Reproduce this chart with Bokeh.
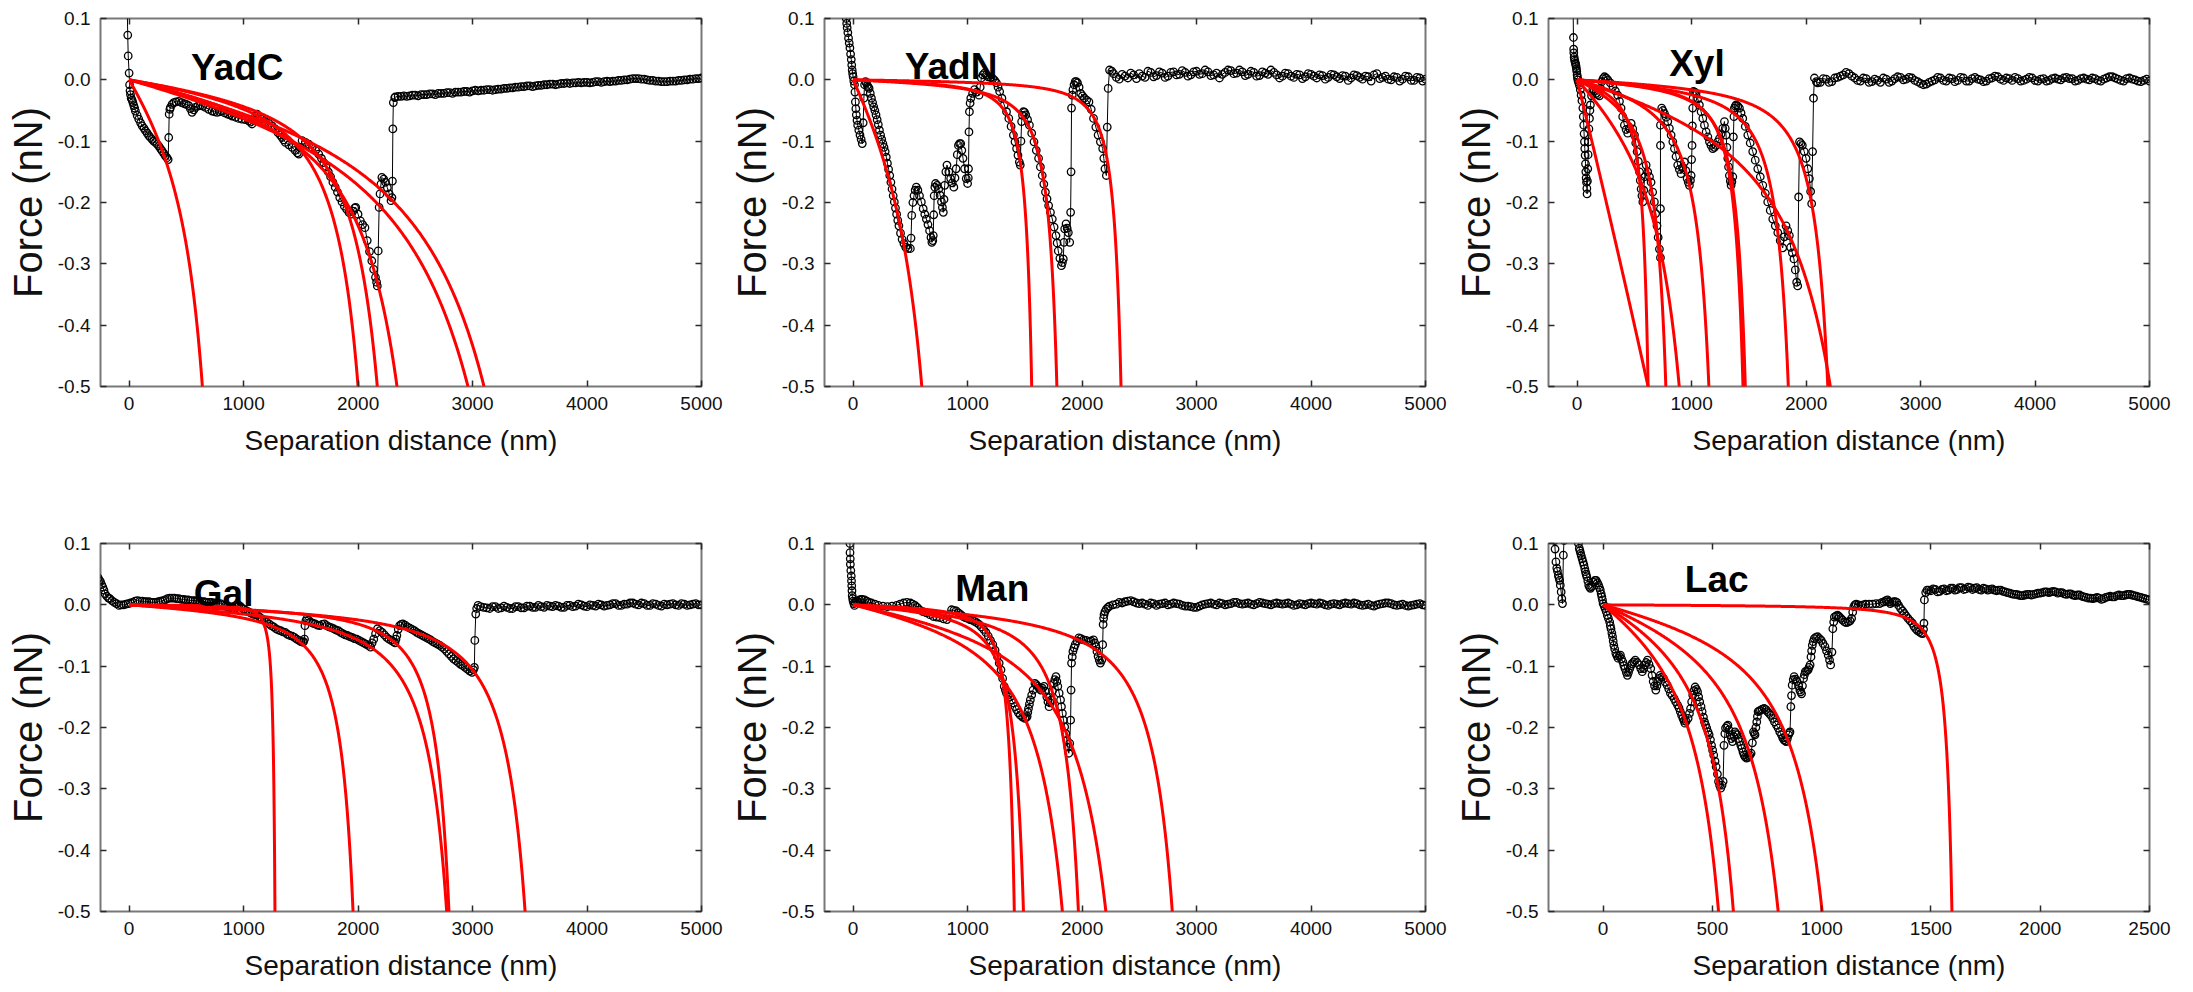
import numpy as np
from bokeh.plotting import figure
from bokeh.layouts import column, row
from bokeh.models import (LinearAxis, FixedTicker, NumeralTickFormatter,
                          CustomJSTickFormatter, Label, Range1d)
from bokeh.embed import file_html
from bokeh.resources import INLINE

FONT = "Liberation Sans"
KT = 4.11e-3  # thermal energy, nN*nm (for the worm-like-chain fit curves)

X_TICKS_5000 = [0, 1000, 2000, 3000, 4000, 5000]
X_TICKS_2500 = [0, 500, 1000, 1500, 2000, 2500]
Y_TICKS = [-0.5, -0.4, -0.3, -0.2, -0.1, 0.0, 0.1]

titles = ["YadC", "YadN", "Xyl", "Gal", "Man", "Lac"]
title_x = [541, 452, 804, 565, 892, 374]
title_y = [0.020, 0.022, 0.027, 0.018, 0.026, 0.041]
x_max = [5000, 5000, 5000, 5000, 5000, 2500]

# ---------------- measured retraction curves (separation nm, force nN) ----------------
yadc_pts = [(-20, 0.15), (-12, 0.073), (-8, 0.039), (0, 0.011), (4, -0.008), (8, -0.018), (12, -0.024),
    (18, -0.030), (26, -0.033), (33, -0.037), (41, -0.042), (48, -0.046), (55, -0.051), (70, -0.058),
    (84, -0.064), (100, -0.070), (114, -0.075), (130, -0.079), (143, -0.083), (158, -0.087), (172, -0.091),
    (186, -0.094), (201, -0.097), (215, -0.100), (230, -0.102), (245, -0.105), (259, -0.108), (274, -0.112),
    (288, -0.116), (303, -0.120), (317, -0.124), (330, -0.127), (341, -0.130), (346, -0.094), (350, -0.056),
    (356, -0.048), (361, -0.045), (375, -0.040), (390, -0.037), (410, -0.036), (434, -0.035), (458, -0.037),
    (481, -0.039), (500, -0.040), (521, -0.042), (535, -0.047), (550, -0.053), (565, -0.049), (579, -0.045),
    (600, -0.043), (623, -0.042), (645, -0.043), (667, -0.045), (695, -0.048), (725, -0.051), (745, -0.052),
    (768, -0.053), (790, -0.052), (812, -0.051), (835, -0.054), (860, -0.056), (880, -0.057), (900, -0.059),
    (930, -0.061), (958, -0.063), (985, -0.064), (1015, -0.065), (1045, -0.067), (1060, -0.069), (1074, -0.072),
    (1090, -0.066), (1105, -0.059), (1118, -0.056), (1140, -0.060), (1162, -0.064), (1190, -0.068),
    (1220, -0.071), (1249, -0.075), (1275, -0.080), (1300, -0.086), (1320, -0.090), (1336, -0.094),
    (1350, -0.098), (1365, -0.102), (1395, -0.106), (1424, -0.110), (1450, -0.115), (1470, -0.119),
    (1482, -0.121), (1495, -0.110), (1511, -0.099), (1540, -0.102), (1569, -0.105), (1600, -0.110),
    (1630, -0.115), (1656, -0.121), (1680, -0.128), (1700, -0.135), (1720, -0.142), (1740, -0.150),
    (1760, -0.158), (1780, -0.167), (1800, -0.175), (1820, -0.183), (1840, -0.192), (1860, -0.199),
    (1880, -0.206), (1900, -0.211), (1920, -0.216), (1940, -0.219), (1955, -0.214), (1970, -0.209),
    (1980, -0.208), (2000, -0.219), (2020, -0.230), (2040, -0.236), (2060, -0.241), (2080, -0.262),
    (2100, -0.280), (2120, -0.295), (2136, -0.309), (2152, -0.322), (2162, -0.330), (2168, -0.336),
    (2176, -0.279), (2184, -0.208), (2192, -0.186), (2200, -0.170), (2208, -0.159), (2224, -0.162),
    (2240, -0.167), (2256, -0.176), (2272, -0.186), (2288, -0.197), (2296, -0.192), (2300, -0.165),
    (2304, -0.080), (2308, -0.037), (2320, -0.029), (2325, -0.028), (2350, -0.027), (2375, -0.027),
    (2400, -0.026), (2425, -0.027), (2450, -0.026), (2475, -0.025), (2500, -0.025), (2525, -0.026),
    (2550, -0.024), (2575, -0.024), (2600, -0.024), (2625, -0.023), (2650, -0.023), (2675, -0.024),
    (2700, -0.022), (2725, -0.022), (2750, -0.022), (2775, -0.021), (2800, -0.021), (2825, -0.022),
    (2850, -0.020), (2875, -0.020), (2900, -0.020), (2925, -0.019), (2950, -0.019), (2975, -0.020),
    (3000, -0.018), (3025, -0.017), (3050, -0.018), (3075, -0.017), (3100, -0.017), (3125, -0.016),
    (3150, -0.016), (3175, -0.017), (3200, -0.016), (3225, -0.015), (3250, -0.015), (3275, -0.014),
    (3300, -0.014), (3325, -0.013), (3350, -0.013), (3375, -0.012), (3400, -0.012), (3425, -0.011),
    (3450, -0.011), (3475, -0.010), (3500, -0.010), (3525, -0.011), (3550, -0.010), (3575, -0.009),
    (3600, -0.009), (3625, -0.008), (3650, -0.008), (3675, -0.007), (3700, -0.007), (3725, -0.008),
    (3750, -0.007), (3775, -0.006), (3800, -0.006), (3825, -0.005), (3850, -0.006), (3875, -0.005),
    (3900, -0.005), (3925, -0.004), (3950, -0.005), (3975, -0.004), (4000, -0.004), (4025, -0.005),
    (4050, -0.004), (4075, -0.003), (4100, -0.003), (4125, -0.004), (4150, -0.003), (4175, -0.002),
    (4200, -0.003), (4225, -0.002), (4250, -0.002), (4275, -0.001), (4300, -0.001), (4325, 0.000),
    (4350, 0.000), (4375, 0.001), (4400, 0.002), (4425, 0.002), (4450, 0.002), (4475, 0.001), (4500, 0.001),
    (4525, 0.000), (4550, -0.001), (4575, -0.001), (4600, -0.002), (4625, -0.002), (4650, -0.003),
    (4675, -0.003), (4700, -0.003), (4725, -0.002), (4750, -0.002), (4775, -0.002), (4800, -0.001),
    (4825, -0.001), (4850, 0.000), (4875, 0.000), (4900, 0.001), (4925, 0.001), (4950, 0.002), (4975, 0.002),
    (5000, 0.003)]

yadn_pts = [(-64, 0.115), (-60, 0.100), (-56, 0.092), (-52, 0.085), (-46, 0.077), (-40, 0.068), (-34, 0.060),
    (-28, 0.052), (-22, 0.042), (-16, 0.033), (-12, 0.024), (-8, 0.016), (-4, 0.010), (0, 0.005), (6, -0.002),
    (12, -0.008), (16, -0.020), (20, -0.036), (24, -0.047), (28, -0.057), (34, -0.066), (40, -0.074),
    (50, -0.082), (60, -0.090), (70, -0.097), (80, -0.104), (88, -0.070), (94, -0.030), (100, -0.008),
    (108, -0.003), (116, -0.005), (124, -0.009), (132, -0.012), (140, -0.014), (150, -0.022), (160, -0.030),
    (170, -0.037), (180, -0.044), (190, -0.050), (200, -0.057), (210, -0.065), (220, -0.073), (230, -0.082),
    (240, -0.090), (250, -0.097), (260, -0.104), (270, -0.110), (280, -0.117), (290, -0.126), (300, -0.136),
    (310, -0.146), (320, -0.156), (330, -0.167), (340, -0.178), (350, -0.189), (360, -0.199), (370, -0.209),
    (380, -0.219), (390, -0.229), (400, -0.238), (414, -0.250), (428, -0.260), (444, -0.267), (460, -0.273),
    (480, -0.275), (500, -0.275), (506, -0.258), (512, -0.221), (522, -0.200), (532, -0.189), (542, -0.180),
    (552, -0.175), (566, -0.180), (580, -0.189), (596, -0.199), (612, -0.210), (626, -0.219), (640, -0.227),
    (654, -0.236), (668, -0.246), (680, -0.257), (688, -0.265), (696, -0.262), (700, -0.254), (704, -0.220),
    (708, -0.189), (714, -0.175), (720, -0.169), (734, -0.172), (748, -0.178), (760, -0.188), (772, -0.199),
    (780, -0.208), (788, -0.216), (794, -0.195), (800, -0.172), (810, -0.150), (820, -0.139), (836, -0.150),
    (852, -0.161), (866, -0.168), (880, -0.175), (890, -0.160), (900, -0.145), (910, -0.122), (920, -0.107),
    (930, -0.104), (940, -0.104), (950, -0.115), (960, -0.128), (974, -0.145), (988, -0.161), (1000, -0.169),
    (1006, -0.160), (1008, -0.145), (1012, -0.085), (1016, -0.052), (1022, -0.038), (1028, -0.030),
    (1044, -0.022), (1060, -0.016), (1080, -0.020), (1100, -0.025), (1110, -0.012), (1120, 0.003),
    (1134, 0.008), (1148, 0.011), (1164, 0.008), (1180, 0.005), (1200, 0.004), (1220, 0.002), (1236, -0.001),
    (1252, -0.005), (1266, -0.012), (1280, -0.019), (1300, -0.030), (1320, -0.041), (1340, -0.052),
    (1360, -0.063), (1380, -0.076), (1400, -0.090), (1414, -0.101), (1428, -0.112), (1440, -0.123),
    (1452, -0.134), (1460, -0.139), (1466, -0.100), (1472, -0.068), (1480, -0.058), (1488, -0.052),
    (1498, -0.053), (1508, -0.057), (1524, -0.065), (1540, -0.074), (1560, -0.087), (1580, -0.101),
    (1600, -0.115), (1620, -0.128), (1636, -0.142), (1652, -0.156), (1666, -0.170), (1680, -0.183),
    (1694, -0.194), (1708, -0.205), (1724, -0.216), (1740, -0.227), (1756, -0.240), (1772, -0.254),
    (1782, -0.266), (1792, -0.279), (1806, -0.291), (1820, -0.303), (1828, -0.298), (1836, -0.292),
    (1842, -0.265), (1848, -0.243), (1860, -0.235), (1870, -0.242), (1880, -0.249), (1892, -0.265),
    (1900, -0.216), (1904, -0.150), (1908, -0.046), (1914, -0.025), (1920, -0.016), (1930, -0.008),
    (1940, -0.003), (1950, -0.003), (1960, -0.005), (1974, -0.012), (1988, -0.022), (2004, -0.026),
    (2020, -0.030), (2040, -0.033), (2060, -0.036), (2080, -0.048), (2100, -0.063), (2120, -0.077),
    (2140, -0.090), (2160, -0.101), (2180, -0.112), (2190, -0.128), (2200, -0.145), (2212, -0.156),
    (2220, -0.077), (2228, -0.014), (2240, 0.016), (2260, 0.014), (2275, 0.010), (2300, 0.004), (2325, 0.001),
    (2350, 0.009), (2375, 0.006), (2400, 0.003), (2425, 0.011), (2450, 0.008), (2475, 0.002), (2500, 0.010),
    (2525, 0.006), (2550, 0.004), (2575, 0.014), (2600, 0.012), (2625, 0.005), (2650, 0.007), (2675, 0.013),
    (2700, 0.011), (2725, 0.004), (2750, 0.006), (2775, 0.012), (2800, 0.013), (2825, 0.008), (2850, 0.009),
    (2875, 0.015), (2900, 0.012), (2925, 0.006), (2950, 0.008), (2975, 0.013), (3000, 0.014), (3025, 0.009),
    (3050, 0.010), (3075, 0.016), (3100, 0.013), (3125, 0.007), (3150, 0.008), (3175, 0.011), (3200, 0.003),
    (3225, 0.009), (3250, 0.012), (3275, 0.016), (3300, 0.015), (3325, 0.010), (3350, 0.011), (3375, 0.016),
    (3400, 0.013), (3425, 0.007), (3450, 0.009), (3475, 0.014), (3500, 0.012), (3525, 0.006), (3550, 0.007),
    (3575, 0.013), (3600, 0.011), (3625, 0.009), (3650, 0.016), (3675, 0.012), (3700, 0.008), (3725, 0.003),
    (3750, 0.006), (3775, 0.011), (3800, 0.010), (3825, 0.006), (3850, 0.004), (3875, 0.009), (3900, 0.008),
    (3925, 0.002), (3950, 0.005), (3975, 0.010), (4000, 0.009), (4025, 0.006), (4050, 0.003), (4075, 0.008),
    (4100, 0.007), (4125, 0.001), (4150, 0.004), (4175, 0.009), (4200, 0.008), (4225, 0.005), (4250, 0.002),
    (4275, 0.007), (4300, 0.006), (4325, -0.001), (4350, 0.003), (4375, 0.008), (4400, 0.007), (4425, 0.004),
    (4450, 0.001), (4475, 0.006), (4500, 0.005), (4525, -0.002), (4550, 0.008), (4575, 0.010), (4600, 0.002),
    (4625, 0.004), (4650, 0.006), (4675, 0.001), (4700, 0.000), (4725, 0.005), (4750, 0.004), (4775, -0.002),
    (4800, 0.001), (4825, 0.006), (4850, 0.005), (4875, -0.001), (4900, -0.001), (4925, 0.004), (4950, 0.003),
    (4975, -0.002), (5000, 0.001)]

xyl_pts = [(-36, 0.13), (-32, 0.069), (-30, 0.050), (-29, 0.044), (-26, 0.037), (-23, 0.033), (-19, 0.030),
    (-15, 0.027), (-12, 0.025), (-9, 0.022), (-6, 0.018), (-3, 0.014), (0, 0.008), (3, 0.004), (6, 0.0),
    (12, -0.004), (20, -0.009), (28, -0.016), (35, -0.025), (42, -0.034), (50, -0.046), (54, -0.060),
    (58, -0.074), (61, -0.088), (64, -0.101), (67, -0.112), (70, -0.123), (73, -0.137), (76, -0.150),
    (79, -0.160), (82, -0.167), (85, -0.177), (87, -0.186), (90, -0.165), (93, -0.145), (96, -0.122),
    (99, -0.101), (103, -0.080), (108, -0.063), (112, -0.050), (116, -0.041), (126, -0.026), (137, -0.016),
    (150, -0.018), (166, -0.022), (180, -0.024), (195, -0.026), (205, -0.014), (215, -0.003), (227, 0.002),
    (239, 0.005), (254, 0.003), (268, 0.0), (290, -0.005), (312, -0.011), (334, -0.018), (355, -0.025),
    (370, -0.035), (384, -0.046), (398, -0.060), (413, -0.074), (428, -0.081), (442, -0.087), (457, -0.079),
    (472, -0.071), (486, -0.080), (501, -0.090), (512, -0.103), (524, -0.117), (535, -0.133), (545, -0.150),
    (552, -0.164), (559, -0.178), (566, -0.189), (574, -0.199), (582, -0.180), (590, -0.158), (603, -0.139),
    (617, -0.150), (632, -0.158), (646, -0.167), (660, -0.183), (675, -0.199), (686, -0.218), (698, -0.238),
    (708, -0.257), (719, -0.276), (728, -0.290), (728, -0.210), (728, -0.107), (728, -0.074), (739, -0.046),
    (750, -0.050), (763, -0.055), (778, -0.061), (792, -0.068), (806, -0.079), (821, -0.090), (836, -0.101),
    (850, -0.112), (864, -0.125), (879, -0.139), (893, -0.146), (908, -0.153), (923, -0.143), (938, -0.134),
    (950, -0.148), (961, -0.161), (971, -0.167), (981, -0.172), (990, -0.164), (996, -0.156), (1000, -0.130),
    (1004, -0.107), (1007, -0.075), (1010, -0.046), (1013, -0.030), (1016, -0.019), (1028, -0.020),
    (1039, -0.022), (1054, -0.031), (1068, -0.041), (1083, -0.052), (1098, -0.063), (1112, -0.074),
    (1127, -0.085), (1142, -0.093), (1156, -0.101), (1170, -0.107), (1185, -0.112), (1200, -0.110),
    (1214, -0.107), (1228, -0.101), (1243, -0.096), (1258, -0.088), (1272, -0.079), (1287, -0.068),
    (1294, -0.079), (1301, -0.090), (1308, -0.110), (1316, -0.128), (1323, -0.142), (1330, -0.156),
    (1338, -0.165), (1345, -0.172), (1352, -0.166), (1360, -0.158), (1365, -0.093), (1370, -0.060),
    (1374, -0.046), (1382, -0.043), (1389, -0.041), (1404, -0.043), (1418, -0.046), (1432, -0.054),
    (1447, -0.063), (1469, -0.076), (1491, -0.090), (1512, -0.103), (1534, -0.117), (1556, -0.131),
    (1578, -0.145), (1600, -0.158), (1622, -0.172), (1644, -0.185), (1665, -0.199), (1687, -0.213),
    (1709, -0.227), (1731, -0.238), (1753, -0.249), (1774, -0.262), (1796, -0.274), (1810, -0.256),
    (1825, -0.238), (1840, -0.246), (1854, -0.254), (1865, -0.273), (1880, -0.282), (1894, -0.292),
    (1906, -0.310), (1918, -0.330), (1927, -0.336), (1935, -0.191), (1943, -0.101), (1955, -0.104),
    (1967, -0.107), (1984, -0.117), (2000, -0.128), (2015, -0.145), (2029, -0.161), (2040, -0.182),
    (2049, -0.202), (2057, -0.117), (2065, -0.030), (2073, 0.003), (2090, -0.003), (2100, -0.005),
    (2125, -0.004), (2150, 0.002), (2175, 0.001), (2200, -0.004), (2225, -0.003), (2250, 0.003), (2275, 0.004),
    (2300, 0.006), (2325, 0.008), (2350, 0.012), (2375, 0.010), (2400, 0.006), (2425, 0.003), (2450, -0.001),
    (2475, -0.002), (2500, 0.003), (2525, 0.002), (2550, -0.004), (2575, -0.003), (2600, 0.001), (2625, -0.001),
    (2650, -0.004), (2675, 0.003), (2700, 0.001), (2725, -0.004), (2750, -0.002), (2775, 0.002), (2800, 0.005),
    (2825, 0.004), (2850, 0.000), (2875, 0.001), (2900, 0.004), (2925, 0.003), (2950, -0.001), (2975, -0.003),
    (3000, -0.006), (3025, -0.008), (3050, -0.007), (3075, -0.004), (3100, -0.002), (3125, 0.000), (3150, 0.004),
    (3175, 0.003), (3200, -0.001), (3225, -0.002), (3250, 0.003), (3275, 0.002), (3300, -0.003), (3325, -0.001),
    (3350, 0.004), (3375, 0.003), (3400, -0.002), (3425, -0.002), (3450, 0.002), (3475, 0.004), (3500, 0.001),
    (3525, 0.000), (3550, -0.003), (3575, -0.002), (3600, 0.002), (3625, 0.003), (3650, 0.006), (3675, 0.005),
    (3700, 0.001), (3725, -0.001), (3750, 0.003), (3775, 0.002), (3800, -0.001), (3825, 0.004), (3850, 0.002),
    (3875, -0.002), (3900, -0.001), (3925, 0.001), (3950, 0.004), (3975, 0.003), (4000, -0.001), (4025, -0.002),
    (4050, 0.001), (4075, 0.002), (4100, -0.002), (4125, -0.001), (4150, 0.002), (4175, 0.003), (4200, 0.001),
    (4225, 0.000), (4250, 0.003), (4275, 0.004), (4300, 0.002), (4325, 0.002), (4350, -0.002), (4375, -0.001),
    (4400, 0.002), (4425, 0.003), (4450, 0.001), (4475, 0.000), (4500, 0.003), (4525, 0.002), (4550, -0.001),
    (4575, -0.002), (4600, 0.001), (4625, 0.003), (4650, 0.005), (4675, 0.005), (4700, 0.003), (4725, 0.001),
    (4750, -0.001), (4775, -0.002), (4800, 0.002), (4825, 0.003), (4850, 0.001), (4875, 0.000), (4900, -0.002),
    (4925, -0.003), (4950, -0.001), (4975, 0.001), (5000, -0.002)]

gal_pts = [(-270, 0.044), (-260, 0.040), (-250, 0.038), (-240, 0.033), (-230, 0.029), (-220, 0.024),
    (-210, 0.018), (-195, 0.014), (-180, 0.011), (-169, 0.010), (-150, 0.007), (-129, 0.004), (-110, 0.002),
    (-89, -0.001), (-70, 0.0), (-48, 0.0), (-28, 0.001), (-8, 0.002), (12, 0.003), (32, 0.004), (52, 0.006),
    (73, 0.007), (95, 0.006), (115, 0.006), (135, 0.005), (153, 0.005), (175, 0.005), (195, 0.004),
    (214, 0.004), (234, 0.004), (255, 0.005), (275, 0.006), (295, 0.007), (315, 0.008), (335, 0.010),
    (355, 0.011), (375, 0.011), (395, 0.011), (415, 0.010), (435, 0.010), (456, 0.009), (476, 0.009),
    (496, 0.008), (516, 0.008), (536, 0.007), (556, 0.007), (577, 0.007), (597, 0.006), (617, 0.006),
    (637, 0.005), (657, 0.005), (677, 0.004), (698, 0.004), (718, 0.004), (738, 0.003), (758, 0.003),
    (778, 0.002), (798, 0.002), (818, 0.0), (838, -0.002), (858, -0.003), (879, -0.004), (899, -0.006),
    (919, -0.007), (940, -0.004), (960, -0.001), (980, -0.004), (1000, -0.007), (1020, -0.009),
    (1040, -0.011), (1060, -0.013), (1081, -0.015), (1101, -0.016), (1121, -0.017), (1141, -0.020),
    (1161, -0.023), (1181, -0.025), (1202, -0.028), (1222, -0.031), (1242, -0.034), (1262, -0.036),
    (1282, -0.039), (1303, -0.041), (1323, -0.042), (1343, -0.044), (1363, -0.045), (1383, -0.048),
    (1403, -0.050), (1424, -0.051), (1444, -0.053), (1464, -0.056), (1484, -0.058), (1500, -0.060),
    (1516, -0.061), (1524, -0.060), (1532, -0.056), (1536, -0.034), (1544, -0.026), (1552, -0.023),
    (1568, -0.025), (1585, -0.028), (1605, -0.030), (1625, -0.031), (1645, -0.033), (1665, -0.034),
    (1686, -0.032), (1706, -0.031), (1726, -0.034), (1746, -0.036), (1766, -0.037), (1786, -0.039),
    (1806, -0.041), (1827, -0.042), (1847, -0.045), (1867, -0.047), (1887, -0.049), (1907, -0.050),
    (1928, -0.052), (1948, -0.053), (1968, -0.055), (1988, -0.056), (2008, -0.058), (2028, -0.060),
    (2048, -0.062), (2068, -0.064), (2088, -0.066), (2109, -0.069), (2123, -0.062), (2137, -0.056),
    (2153, -0.047), (2169, -0.039), (2190, -0.042), (2210, -0.045), (2230, -0.049), (2250, -0.053),
    (2270, -0.056), (2290, -0.058), (2307, -0.060), (2323, -0.062), (2331, -0.056), (2339, -0.050),
    (2351, -0.040), (2363, -0.034), (2377, -0.032), (2391, -0.031), (2411, -0.033), (2431, -0.036),
    (2452, -0.038), (2472, -0.040), (2492, -0.042), (2512, -0.045), (2532, -0.047), (2552, -0.049),
    (2572, -0.051), (2593, -0.053), (2613, -0.055), (2633, -0.057), (2653, -0.060), (2673, -0.062),
    (2694, -0.064), (2714, -0.066), (2734, -0.069), (2754, -0.072), (2774, -0.076), (2794, -0.080),
    (2814, -0.084), (2834, -0.088), (2855, -0.091), (2875, -0.094), (2895, -0.097), (2915, -0.099),
    (2935, -0.102), (2955, -0.105), (2976, -0.108), (2996, -0.110), (3008, -0.106), (3016, -0.102),
    (3020, -0.058), (3028, -0.015), (3036, -0.006), (3048, -0.001), (3070, -0.003), (3097, -0.004),
    (3125, -0.005), (3150, -0.006), (3175, -0.003), (3200, -0.003), (3225, -0.006), (3250, -0.005),
    (3275, -0.002), (3300, -0.004), (3325, -0.006), (3350, -0.006), (3375, -0.003), (3400, -0.003),
    (3425, -0.005), (3450, -0.005), (3475, -0.002), (3500, -0.002), (3525, -0.004), (3550, -0.004),
    (3575, -0.001), (3600, -0.003), (3625, -0.004), (3650, -0.001), (3675, -0.002), (3700, -0.003),
    (3725, -0.001), (3750, -0.002), (3775, -0.004), (3800, -0.004), (3825, -0.001), (3850, -0.001),
    (3875, -0.003), (3900, -0.002), (3925, 0.001), (3950, 0.000), (3975, -0.002), (4000, -0.003),
    (4025, 0.000), (4050, -0.001), (4075, -0.002), (4100, 0.001), (4125, 0.000), (4150, -0.002),
    (4175, -0.001), (4200, 0.000), (4225, 0.002), (4250, 0.002), (4275, -0.001), (4300, -0.001), (4325, 0.001),
    (4350, 0.001), (4375, 0.003), (4400, 0.003), (4425, 0.001), (4450, 0.000), (4475, 0.003), (4500, 0.002),
    (4525, -0.001), (4550, -0.001), (4575, 0.002), (4600, 0.001), (4625, -0.001), (4650, -0.002), (4675, 0.001),
    (4700, 0.000), (4725, 0.001), (4750, 0.002), (4775, 0.000), (4800, -0.001), (4825, 0.002), (4850, 0.001),
    (4875, -0.001), (4900, 0.000), (4925, 0.001), (4950, 0.002), (4975, 0.000), (5000, 0.0)]

man_pts = [(-30, 0.13), (-28, 0.100), (-27, 0.085), (-25, 0.075), (-24, 0.066), (-20, 0.056), (-16, 0.047),
    (-14, 0.039), (-12, 0.031), (-10, 0.023), (-8, 0.015), (-4, 0.010), (0, 0.006), (6, 0.002), (12, -0.001),
    (20, 0.004), (30, 0.006), (40, 0.006), (55, 0.008), (70, 0.009), (80, 0.009), (100, 0.008), (120, 0.006),
    (140, 0.004), (160, 0.003), (190, 0.001), (220, -0.001), (260, -0.002), (300, -0.003), (340, -0.002),
    (380, -0.001), (410, 0.001), (440, 0.003), (470, 0.004), (500, 0.003), (520, 0.001), (540, -0.001),
    (560, -0.004), (580, -0.008), (610, -0.011), (640, -0.013), (670, -0.016), (700, -0.019), (730, -0.020),
    (760, -0.021), (790, -0.023), (820, -0.024), (840, -0.016), (860, -0.008), (880, -0.009), (900, -0.010),
    (920, -0.013), (940, -0.016), (960, -0.019), (980, -0.021), (1000, -0.022), (1020, -0.024),
    (1040, -0.025), (1060, -0.027), (1080, -0.029), (1100, -0.032), (1120, -0.036), (1140, -0.040),
    (1160, -0.045), (1180, -0.051), (1200, -0.058), (1220, -0.065), (1240, -0.074), (1260, -0.084),
    (1276, -0.095), (1292, -0.106), (1306, -0.120), (1320, -0.133), (1330, -0.139), (1340, -0.144),
    (1356, -0.147), (1372, -0.150), (1386, -0.155), (1400, -0.160), (1414, -0.166), (1428, -0.171),
    (1444, -0.176), (1460, -0.180), (1480, -0.183), (1500, -0.185), (1512, -0.184), (1520, -0.182),
    (1526, -0.175), (1532, -0.169), (1540, -0.162), (1548, -0.155), (1560, -0.147), (1572, -0.139),
    (1588, -0.128), (1600, -0.130), (1612, -0.133), (1626, -0.136), (1640, -0.139), (1654, -0.136),
    (1668, -0.133), (1680, -0.141), (1692, -0.150), (1702, -0.158), (1712, -0.166), (1722, -0.160),
    (1732, -0.155), (1742, -0.140), (1752, -0.128), (1762, -0.122), (1772, -0.117), (1780, -0.125),
    (1788, -0.133), (1800, -0.144), (1812, -0.155), (1820, -0.166), (1828, -0.177), (1838, -0.188),
    (1848, -0.199), (1858, -0.210), (1868, -0.221), (1876, -0.232), (1884, -0.242), (1892, -0.226),
    (1900, -0.188), (1904, -0.139), (1908, -0.095), (1914, -0.085), (1920, -0.076), (1930, -0.070),
    (1940, -0.065), (1956, -0.059), (1972, -0.054), (1990, -0.055), (2012, -0.057), (2036, -0.058),
    (2060, -0.060), (2080, -0.059), (2100, -0.057), (2110, -0.062), (2120, -0.068), (2130, -0.076),
    (2140, -0.084), (2150, -0.090), (2160, -0.095), (2172, -0.090), (2180, -0.065), (2184, -0.032),
    (2188, -0.022), (2192, -0.016), (2200, -0.011), (2212, -0.007), (2226, -0.004), (2240, -0.002),
    (2270, 0.0), (2300, 0.001), (2325, 0.004), (2350, 0.003), (2375, 0.005), (2400, 0.006), (2425, 0.007),
    (2450, 0.005), (2475, 0.003), (2500, 0.002), (2525, 0.003), (2550, 0.001), (2575, -0.001), (2600, 0.003),
    (2625, 0.002), (2650, -0.001), (2675, 0.001), (2700, 0.002), (2725, 0.003), (2750, 0.000), (2775, 0.001),
    (2800, 0.003), (2825, 0.002), (2850, 0.001), (2875, -0.001), (2900, -0.002), (2925, -0.002), (2950, -0.003),
    (2975, -0.004), (3000, -0.004), (3025, -0.002), (3050, 0.000), (3075, 0.001), (3100, 0.002), (3125, 0.003),
    (3150, 0.001), (3175, 0.000), (3200, 0.003), (3225, 0.002), (3250, 0.000), (3275, 0.001), (3300, 0.002),
    (3325, 0.004), (3350, 0.004), (3375, 0.002), (3400, 0.001), (3425, 0.002), (3450, 0.003), (3475, 0.001),
    (3500, 0.000), (3525, 0.002), (3550, 0.004), (3575, 0.003), (3600, 0.002), (3625, 0.001), (3650, 0.000),
    (3675, 0.002), (3700, 0.003), (3725, 0.002), (3750, 0.001), (3775, 0.002), (3800, 0.003), (3825, 0.001),
    (3850, -0.001), (3875, 0.000), (3900, 0.002), (3925, 0.001), (3950, 0.000), (3975, 0.002), (4000, 0.003),
    (4025, 0.002), (4050, 0.001), (4075, 0.003), (4100, 0.002), (4125, 0.000), (4150, -0.001), (4175, 0.001),
    (4200, 0.002), (4225, 0.001), (4250, 0.000), (4275, 0.002), (4300, 0.003), (4325, 0.002), (4350, 0.001),
    (4375, 0.003), (4400, 0.002), (4425, 0.000), (4450, -0.001), (4475, 0.000), (4500, 0.001), (4525, -0.001),
    (4550, -0.002), (4575, 0.000), (4600, 0.001), (4625, 0.002), (4650, 0.003), (4675, 0.003), (4700, 0.002),
    (4725, 0.000), (4750, -0.001), (4775, 0.000), (4800, 0.001), (4825, -0.001), (4850, -0.002), (4875, -0.001),
    (4900, 0.000), (4925, 0.001), (4950, 0.002), (4975, 0.000), (5000, -0.001)]

lac_pts = [(-222, 0.105), (-220, 0.091), (-216, 0.070), (-212, 0.060), (-209, 0.055), (-205, 0.048),
    (-202, 0.044), (-199, 0.040), (-196, 0.032), (-192, 0.021), (-189, 0.010), (-186, 0.002), (-182, 0.081),
    (-179, 0.105), (-170, 0.14), (-120, 0.14), (-113, 0.100), (-109, 0.092), (-106, 0.088), (-103, 0.084),
    (-100, 0.080), (-96, 0.075), (-92, 0.070), (-88, 0.065), (-84, 0.059), (-81, 0.054), (-78, 0.050),
    (-75, 0.046), (-70, 0.039), (-66, 0.032), (-62, 0.029), (-58, 0.027), (-52, 0.030), (-45, 0.037),
    (-38, 0.040), (-32, 0.040), (-26, 0.036), (-21, 0.032), (-17, 0.028), (-13, 0.024), (-9, 0.018),
    (-6, 0.013), (-3, 0.008), (0, 0.002), (5, -0.002), (9, -0.006), (14, -0.011), (19, -0.017), (24, -0.022),
    (30, -0.028), (33, -0.034), (36, -0.039), (40, -0.046), (43, -0.052), (46, -0.059), (49, -0.066),
    (53, -0.072), (58, -0.079), (63, -0.083), (68, -0.087), (74, -0.084), (79, -0.082), (84, -0.088),
    (90, -0.093), (95, -0.099), (100, -0.104), (106, -0.110), (111, -0.115), (116, -0.110), (122, -0.104),
    (127, -0.099), (132, -0.096), (140, -0.093), (147, -0.090), (156, -0.094), (165, -0.098), (172, -0.104),
    (179, -0.109), (185, -0.104), (190, -0.098), (197, -0.094), (203, -0.090), (210, -0.097), (218, -0.104),
    (224, -0.115), (229, -0.125), (235, -0.132), (241, -0.139), (246, -0.132), (250, -0.125), (256, -0.120),
    (261, -0.115), (268, -0.118), (276, -0.120), (284, -0.126), (293, -0.131), (300, -0.137), (308, -0.144),
    (316, -0.148), (325, -0.153), (332, -0.158), (340, -0.163), (347, -0.168), (353, -0.174), (359, -0.180),
    (365, -0.185), (370, -0.189), (374, -0.193), (380, -0.190), (389, -0.185), (395, -0.177), (400, -0.169),
    (405, -0.158), (410, -0.147), (416, -0.140), (421, -0.134), (427, -0.138), (432, -0.142), (437, -0.150),
    (442, -0.158), (448, -0.166), (453, -0.174), (459, -0.183), (464, -0.191), (469, -0.196), (474, -0.201),
    (480, -0.207), (485, -0.212), (491, -0.220), (496, -0.229), (501, -0.237), (506, -0.245), (512, -0.255),
    (517, -0.264), (523, -0.276), (528, -0.288), (533, -0.294), (538, -0.299), (544, -0.294), (549, -0.288),
    (553, -0.229), (557, -0.210), (560, -0.201), (566, -0.198), (571, -0.196), (576, -0.204), (581, -0.212),
    (587, -0.218), (592, -0.223), (598, -0.215), (603, -0.207), (608, -0.210), (613, -0.212), (619, -0.218),
    (624, -0.223), (630, -0.229), (635, -0.234), (640, -0.240), (645, -0.245), (650, -0.248), (656, -0.250),
    (661, -0.249), (667, -0.247), (672, -0.245), (677, -0.242), (683, -0.225), (688, -0.207), (692, -0.210),
    (695, -0.212), (699, -0.200), (703, -0.191), (706, -0.182), (709, -0.174), (715, -0.173), (720, -0.172),
    (728, -0.170), (737, -0.169), (745, -0.171), (752, -0.174), (760, -0.177), (767, -0.180), (776, -0.185),
    (784, -0.191), (793, -0.196), (801, -0.201), (808, -0.207), (816, -0.212), (822, -0.217), (827, -0.220),
    (833, -0.222), (838, -0.223), (843, -0.218), (848, -0.212), (852, -0.209), (855, -0.207), (859, -0.166),
    (862, -0.148), (865, -0.131), (870, -0.122), (874, -0.117), (880, -0.121), (887, -0.125), (894, -0.132),
    (900, -0.139), (904, -0.142), (908, -0.145), (912, -0.132), (917, -0.120), (921, -0.114), (925, -0.109),
    (931, -0.108), (938, -0.106), (942, -0.102), (947, -0.098), (951, -0.085), (954, -0.075), (957, -0.066),
    (961, -0.060), (966, -0.055), (973, -0.053), (981, -0.052), (990, -0.055), (998, -0.058), (1006, -0.063),
    (1015, -0.068), (1022, -0.075), (1030, -0.082), (1036, -0.090), (1041, -0.098), (1047, -0.077),
    (1051, -0.039), (1055, -0.028), (1058, -0.020), (1066, -0.018), (1073, -0.017), (1080, -0.019),
    (1088, -0.022), (1096, -0.025), (1105, -0.028), (1113, -0.029), (1122, -0.028), (1130, -0.026),
    (1137, -0.022), (1142, -0.012), (1147, -0.003), (1152, 0.0), (1158, 0.001), (1168, 0.0), (1179, -0.001),
    (1190, 0.0), (1201, 0.001), (1217, 0.001), (1233, 0.001), (1249, 0.002), (1265, 0.002), (1276, 0.004),
    (1286, 0.005), (1294, 0.007), (1301, 0.008), (1308, 0.005), (1314, 0.002), (1322, 0.004), (1329, 0.005),
    (1337, 0.005), (1344, 0.004), (1352, -0.001), (1361, -0.006), (1370, -0.010), (1378, -0.014),
    (1386, -0.018), (1395, -0.022), (1405, -0.026), (1415, -0.030), (1422, -0.035), (1430, -0.039),
    (1438, -0.042), (1447, -0.044), (1455, -0.046), (1462, -0.047), (1466, -0.040), (1468, -0.030),
    (1470, 0.008), (1476, 0.020), (1482, 0.024), (1490, 0.024), (1500, 0.023), (1510, 0.026), (1520, 0.025),
    (1530, 0.021), (1540, 0.022), (1550, 0.025), (1560, 0.026), (1570, 0.023), (1580, 0.024), (1590, 0.027),
    (1600, 0.027), (1610, 0.024), (1620, 0.025), (1630, 0.028), (1640, 0.028), (1650, 0.025), (1660, 0.026),
    (1670, 0.029), (1680, 0.028), (1690, 0.025), (1700, 0.027), (1710, 0.028), (1720, 0.025), (1730, 0.024),
    (1740, 0.027), (1750, 0.026), (1760, 0.024), (1770, 0.025), (1780, 0.026), (1790, 0.024), (1800, 0.023),
    (1810, 0.024), (1820, 0.024), (1830, 0.022), (1840, 0.021), (1850, 0.020), (1860, 0.019), (1870, 0.018),
    (1880, 0.017), (1890, 0.017), (1900, 0.016), (1910, 0.015), (1920, 0.015), (1930, 0.016), (1940, 0.017),
    (1950, 0.017), (1960, 0.016), (1970, 0.017), (1980, 0.018), (1990, 0.019), (2000, 0.019), (2010, 0.020),
    (2020, 0.021), (2030, 0.021), (2040, 0.020), (2050, 0.021), (2060, 0.022), (2070, 0.021), (2080, 0.019),
    (2090, 0.020), (2100, 0.020), (2110, 0.018), (2120, 0.017), (2130, 0.018), (2140, 0.018), (2150, 0.016),
    (2160, 0.015), (2170, 0.016), (2180, 0.016), (2190, 0.014), (2200, 0.013), (2210, 0.012), (2220, 0.011),
    (2230, 0.011), (2240, 0.010), (2250, 0.011), (2260, 0.012), (2270, 0.011), (2280, 0.009), (2290, 0.010),
    (2300, 0.012), (2310, 0.013), (2320, 0.014), (2330, 0.013), (2340, 0.013), (2350, 0.015), (2360, 0.016),
    (2370, 0.015), (2380, 0.015), (2390, 0.016), (2400, 0.017), (2410, 0.017), (2420, 0.016), (2430, 0.015),
    (2440, 0.014), (2450, 0.013), (2460, 0.012), (2470, 0.011), (2480, 0.010), (2490, 0.009), (2500, 0.008)]

# ---------------- WLC fits: x where each fit reaches -0.5 nN, and one point on the fit ----------------
yadc_fit_end = [640, 2000, 2168, 2340, 2960, 3100]
yadc_fit_mid_x = [420, 1480, 1900, 2168, 2200, 2300]
yadc_fit_mid_f = [-0.197, -0.110, -0.211, -0.330, -0.208, -0.197]

yadn_fit_end = [600, 1560, 1780, 2340]
yadn_fit_mid_x = [460, 1460, 1680, 2240]
yadn_fit_mid_f = [-0.287, -0.134, -0.183, -0.155]

xyl_fit_end = [620, 620, 775, 892, 1151, 1449, 1469, 1845, 2212, 2190]
xyl_fit_mid_x = [249, 556, 716, 804, 981, 1330, 1300, 1753, 1869, 2049]
xyl_fit_mid_f = [-0.195, -0.184, -0.287, -0.358, -0.172, -0.156, -0.120, -0.249, -0.260, -0.202]

gal_fit_end = [1274, 1956, 2774, 2794, 3459]
gal_fit_mid_x = [1161, 1524, 2109, 2323, 3016]
gal_fit_mid_f = [-0.025, -0.066, -0.069, -0.062, -0.110]

man_fit_end = [1408, 1488, 1828, 1968, 2208, 2788]
man_fit_mid_x = [1292, 1340, 1300, 1700, 1740, 2140]
man_fit_mid_f = [-0.106, -0.144, -0.122, -0.122, -0.166, -0.076]

lac_fit_end = [528, 596, 801, 1002, 1596]
lac_fit_mid_x = [357, 378, 677, 848, 1468]
lac_fit_mid_f = [-0.170, -0.131, -0.250, -0.223, -0.044]


def g(u):
    return 0.25 / (1.0 - u) ** 2 - 0.25 + u


def wlc_fit(x_end, x_mid, f_mid):
    """Contour length L and persistence length p of a WLC fit through the two read points."""
    target = 0.5 / abs(f_mid)
    lo, hi = x_end * 1.0000001, x_end * 1000.0
    if g(x_end / hi) / g(x_mid / hi) >= target:
        L = hi
    else:
        for _ in range(200):
            m = np.sqrt(lo * hi)
            if g(x_end / m) / g(x_mid / m) > target:
                lo = m
            else:
                hi = m
        L = 0.5 * (lo + hi)
    p = KT * g(x_end / L) / 0.5
    return L, p


def wlc_curve(x_end, x_mid, f_mid):
    L, p = wlc_fit(x_end, x_mid, f_mid)
    x = np.concatenate([np.linspace(0, x_end, 400), x_end + (L - x_end) * np.linspace(0.02, 0.5, 25)])
    x = x[x < L * 0.9999]
    f = -(KT / p) * g(x / L)
    return x, f


def style_axis(ax):
    ax.axis_line_color = None
    ax.major_tick_in = 6
    ax.major_tick_out = 0
    ax.minor_tick_line_color = None
    ax.major_tick_line_color = "#2a2a2a"
    ax.major_tick_line_width = 1.5
    ax.major_label_text_font = FONT
    ax.major_label_text_font_size = "19px"
    ax.major_label_text_color = "#111111"
    ax.axis_label_text_font = FONT
    ax.axis_label_text_font_size = "28px"
    ax.axis_label_text_font_style = "normal"
    ax.axis_label_text_color = "#111111"


def panel(i, pts, fit_end, fit_mx, fit_mf, height, top, bottom):
    xs = [q[0] for q in pts]
    fs = [q[1] for q in pts]
    p = figure(width=724, height=height, x_range=Range1d(-250, x_max[i]), y_range=Range1d(-0.5, 0.1),
               output_backend="svg", toolbar_location=None,
               min_border_left=100, min_border_right=23, min_border_top=top, min_border_bottom=bottom,
               background_fill_color="white", border_fill_color="white")
    p.grid.visible = False
    p.outline_line_color = "#787878"
    p.outline_line_width = 2
    xt = X_TICKS_2500 if x_max[i] == 2500 else X_TICKS_5000

    bx = p.below[0]
    bx.ticker = FixedTicker(ticks=xt)
    bx.formatter = NumeralTickFormatter(format="0")
    style_axis(bx)
    bx.axis_label = "Separation distance (nm)"
    bx.major_label_standoff = 10
    bx.axis_label_standoff = 12

    ly = p.left[0]
    ly.ticker = FixedTicker(ticks=Y_TICKS)
    ly.formatter = NumeralTickFormatter(format="0.0")
    style_axis(ly)
    ly.axis_label = "Force (nN)"
    ly.axis_label_text_font_size = "40px"
    ly.major_label_standoff = 10
    ly.axis_label_standoff = 5

    top_ax = LinearAxis(ticker=FixedTicker(ticks=xt), formatter=CustomJSTickFormatter(code="return ''"))
    right_ax = LinearAxis(ticker=FixedTicker(ticks=Y_TICKS), formatter=CustomJSTickFormatter(code="return ''"))
    for ax in (top_ax, right_ax):
        style_axis(ax)
        ax.major_label_text_font_size = "0px"
        ax.major_label_standoff = 0
    p.add_layout(top_ax, "above")
    p.add_layout(right_ax, "right")

    p.line(xs, fs, line_color="black", line_width=1)
    p.scatter(xs, fs, marker="circle", size=7.5, fill_color=None, line_color="black", line_width=1.3)

    for xe, xm, fm in zip(fit_end, fit_mx, fit_mf):
        cx, cf = wlc_curve(xe, xm, fm)
        p.line(cx, cf, line_color="#ff0000", line_width=3)

    p.add_layout(Label(x=title_x[i], y=title_y[i], text=titles[i], text_font=FONT,
                       text_font_style="bold", text_font_size="37px", text_color="black",
                       text_baseline="alphabetic", text_align="left"))
    return p


H1, H2 = 533, 459
T1, T2 = 18, 10
p1 = panel(0, yadc_pts, yadc_fit_end, yadc_fit_mid_x, yadc_fit_mid_f, H1, T1, H1 - T1 - 368)
p2 = panel(1, yadn_pts, yadn_fit_end, yadn_fit_mid_x, yadn_fit_mid_f, H1, T1, H1 - T1 - 368)
p3 = panel(2, xyl_pts, xyl_fit_end, xyl_fit_mid_x, xyl_fit_mid_f, H1, T1, H1 - T1 - 368)
p4 = panel(3, gal_pts, gal_fit_end, gal_fit_mid_x, gal_fit_mid_f, H2, T2, H2 - T2 - 368)
p5 = panel(4, man_pts, man_fit_end, man_fit_mid_x, man_fit_mid_f, H2, T2, H2 - T2 - 368)
p6 = panel(5, lac_pts, lac_fit_end, lac_fit_mid_x, lac_fit_mid_f, H2, T2, H2 - T2 - 368)

layout = column(row(p1, p2, p3), row(p4, p5, p6))
open("out.html", "w").write(file_html(layout, INLINE, "Force curves"))
